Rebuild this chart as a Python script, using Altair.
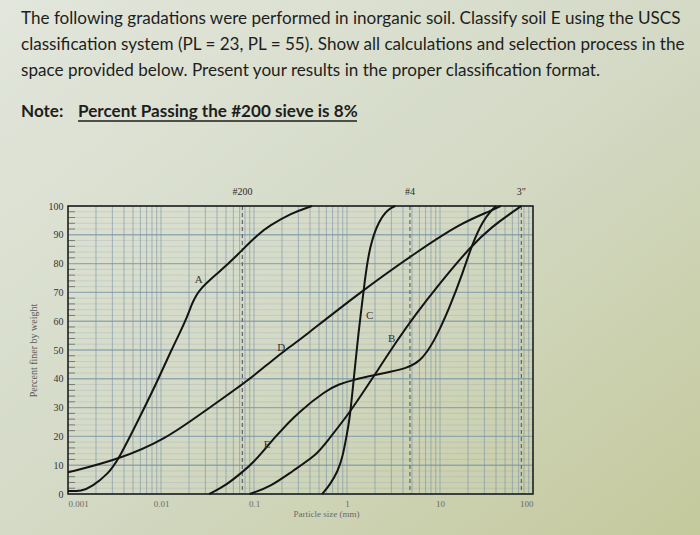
import altair as alt
import pandas as pd

# ---- data ----
A_d = [0.001, 0.0014, 0.0018, 0.0027, 0.0035, 0.0062, 0.0094, 0.0129, 0.0184, 0.0214, 0.0254, 0.042, 0.064, 0.113, 0.145, 0.25, 0.42]
A_p = [1, 1, 2.5, 7, 12, 28, 40, 50, 60, 66, 71, 77, 82.5, 90.5, 93, 97.5, 100]

B_d = [0.09, 0.15, 0.26, 0.47, 0.6, 1.06, 1.98, 3.4, 5.6, 9.3, 22, 37, 55, 75]
B_p = [0, 2.5, 8, 13.5, 18, 28, 41.3, 53, 62.8, 72, 86.5, 93, 97, 100]

C_d = [0.54, 0.65, 0.8, 0.9, 1.0, 1.07, 1.2, 1.3, 1.4, 1.55, 1.75, 2.2, 2.8, 3.3]
C_p = [0, 3, 8, 13, 21, 26, 42, 53, 62, 74, 86, 95, 99, 100]

D_d = [0.001, 0.0035, 0.0112, 0.03, 0.088, 0.145, 0.24, 0.31, 1.37, 5.6, 16.5, 37, 45]
D_p = [7.5, 12, 19, 29, 39.6, 45.5, 51, 53.5, 70, 84, 94, 98.6, 100]

E_d = [0.033, 0.05, 0.074, 0.1, 0.17, 0.3, 0.6, 0.8, 1.16, 2.0, 2.9, 4.4, 6.1, 8.4, 12.8, 17.7, 22, 29, 36, 40]
E_p = [0, 3, 7.5, 11, 20, 28.5, 36, 38, 39.6, 41.3, 42.4, 43.7, 46, 52, 65, 77, 86.5, 95, 98.6, 100]

curve_labels = ["A", "B", "C", "D", "E"]
label_d = [0.0254, 3.03, 1.75, 0.196, 0.138]
label_p = [74.3, 53.8, 61.8, 50.7, 17.0]

sieve_names = ["#200", "#4", "3\""]
sieve_d = [0.075, 4.75, 75]

x_ticks = [0.001, 0.01, 0.1, 1, 10, 100]
y_ticks = list(range(0, 101, 10))
x_grid = [m * 10 ** e for e in range(-3, 2) for m in range(1, 10)] + [100]
y_minor = [v for v in range(0, 101, 2) if v % 10 != 0]

title_lines = [
    "The following gradations were performed in inorganic soil. Classify soil E using the USCS",
    "classification system (PL = 23, PL = 55). Show all calculations and selection process in the",
    "space provided below. Present your results in the proper classification format.",
]
note_label = "Note:"
note_text = "Percent Passing the #200 sieve is 8%"

# ---- tables ----
rows = []
for name, ds, ps in [("A", A_d, A_p), ("B", B_d, B_p), ("C", C_d, C_p), ("D", D_d, D_p), ("E", E_d, E_p)]:
    for i, (d, p) in enumerate(zip(ds, ps)):
        rows.append({"soil": name, "d": d, "p": p, "i": i})
curves = pd.DataFrame(rows)
labels_df = pd.DataFrame({"t": curve_labels, "d": label_d, "p": label_p})
sieves_df = pd.DataFrame({"t": sieve_names, "d": sieve_d})
xgrid_df = pd.DataFrame({"d": x_grid})
ymin_df = pd.DataFrame({"p": y_minor})
ymaj_df = pd.DataFrame({"p": y_ticks})
one = pd.DataFrame({"k": [0]})

W, H = 465, 288
PL, PT = 68, 206

SERIF = "Liberation Serif"
GRID = "#7891a8"

xs = alt.Scale(type="log", domain=[0.001, 100], nice=False)
ys = alt.Scale(domain=[0, 100], nice=False)
x_axis = alt.Axis(values=x_ticks, labelExpr="format(datum.value, '~g')", title="Particle size (mm)",
                  labelFont=SERIF, labelFontSize=9, labelColor="#6a6a6a", titleFont=SERIF,
                  titleFontSize=9, titleFontWeight="normal", titleColor="#6a6a6a", titlePadding=1,
                  ticks=False, domain=False, grid=False, labelPadding=5, titleX=258, zindex=1)
y_axis = alt.Axis(values=y_ticks, title="Percent finer by weight", labelFont=SERIF, labelFontSize=10,
                  labelColor="#333", titleFont=SERIF, titleFontSize=10, titleFontWeight="normal",
                  titleColor="#5a5a5a", ticks=False, domain=False, grid=False, labelPadding=5,
                  titlePadding=10, zindex=1)


def X():
    return alt.X("d:Q", scale=xs, axis=x_axis, title="Particle size (mm)")


def Y():
    return alt.Y("p:Q", scale=ys, axis=y_axis, title="Percent finer by weight")


bg = alt.Chart(one).mark_rect(
    color=alt.Gradient(
        gradient="linear",
        stops=[alt.GradientStop(color="#e2e6dc", offset=0),
               alt.GradientStop(color="#d4dac6", offset=0.5),
               alt.GradientStop(color="#c4c99c", offset=1)],
        x1=0, y1=0, x2=1, y2=1,
    )
).encode(x=alt.value(-PL), x2=alt.value(700 - PL), y=alt.value(-PT), y2=alt.value(535 - PT))

xgrid = alt.Chart(xgrid_df).mark_rule(color=GRID, strokeWidth=1, opacity=0.6).encode(
    x=X(), y=alt.value(0), y2=alt.value(H))
ygrid_minor = alt.Chart(ymin_df).mark_rule(color=GRID, strokeWidth=0.8, opacity=0.25).encode(
    y=Y(), x=alt.value(0), x2=alt.value(W))
ygrid_major = alt.Chart(ymaj_df).mark_rule(color=GRID, strokeWidth=1.4, opacity=0.7).encode(
    y=Y(), x=alt.value(0), x2=alt.value(W))
yticks_in = alt.Chart(ymin_df).mark_rule(color="#555", strokeWidth=1, opacity=0.7).encode(
    y=Y(), x=alt.value(0), x2=alt.value(7))

sieve_lines = alt.Chart(sieves_df).mark_rule(color="#686c70", strokeWidth=1.3, strokeDash=[4, 3]).encode(
    x=X(), y=alt.value(0), y2=alt.value(H))
sieve_text = alt.Chart(sieves_df).mark_text(font=SERIF, fontSize=10, color="#2a2a2a", baseline="bottom").encode(
    x=X(), y=alt.value(-9), text="t:N")

frame = alt.Chart(one).mark_rect(fill=None, stroke="#1a1a1a", strokeWidth=1.5).encode(
    x=alt.value(0), x2=alt.value(W), y=alt.value(0), y2=alt.value(H))

lines = alt.Chart(curves).mark_line(color="#141414", strokeWidth=2, interpolate="basis").encode(
    x=X(), y=Y(), detail="soil:N", order="i:Q")

lbl = alt.Chart(labels_df).mark_text(font=SERIF, fontSize=11, color="#333").encode(
    x=X(), y=Y(), text="t:N")

TF = "Lato"
FS = 17.1
texts = []
for k, line in enumerate(title_lines):
    texts.append(alt.Chart(one).mark_text(text=line, font=TF, fontSize=FS, color="#1e1e1e", align="left",
                                          baseline="alphabetic").encode(
        x=alt.value(21 - PL), y=alt.value(24 + 26 * k - PT)))
texts.append(alt.Chart(one).mark_text(text=note_label, font=TF, fontSize=FS, fontWeight="bold", color="#1e1e1e",
                                      align="left", baseline="alphabetic").encode(
    x=alt.value(21 - PL), y=alt.value(117 - PT)))
texts.append(alt.Chart(one).mark_text(text=note_text, font=TF, fontSize=FS, fontWeight="bold", color="#1e1e1e",
                                      align="left", baseline="alphabetic").encode(
    x=alt.value(78 - PL), y=alt.value(117 - PT)))
underline = alt.Chart(one).mark_rule(color="#1e1e1e", strokeWidth=1.3).encode(
    x=alt.value(78 - PL), x2=alt.value(357 - PL), y=alt.value(121 - PT))

chart = alt.layer(
    bg, xgrid, ygrid_minor, ygrid_major, yticks_in, sieve_lines, frame, lines, lbl, sieve_text, *texts, underline
).properties(
    width=W, height=H,
    padding={"left": PL, "top": PT, "right": 700 - PL - W, "bottom": 535 - PT - H},
    autosize=alt.AutoSizeParams(type="none"),
    background="#d5dbc8",
).configure_view(stroke=None, fill=None)

chart.save("out.html", embed_options={"renderer": "svg", "actions": False})
